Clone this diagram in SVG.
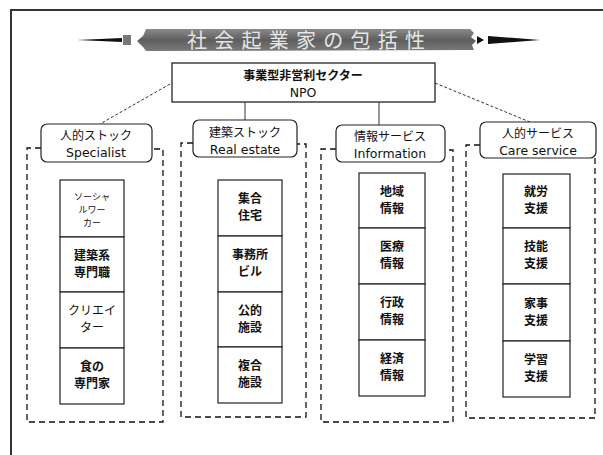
<svg xmlns="http://www.w3.org/2000/svg" width="603" height="455" viewBox="0 0 603 455">
<defs>
<linearGradient id="bn" x1="0" y1="0" x2="0" y2="1">
<stop offset="0" stop-color="#8a8a8a"/>
<stop offset="0.5" stop-color="#5e5e5e"/>
<stop offset="1" stop-color="#7a7a7a"/>
</linearGradient>
</defs>
<style>
.jp{font-family:"Noto Sans CJK JP","Noto Sans",sans-serif;fill:#111;text-anchor:middle;font-size:12px}
.b{font-weight:bold}
.en{font-family:"DejaVu Sans","Noto Sans",sans-serif;fill:#111;text-anchor:middle;font-size:12.5px}
.small{font-size:9px}
.cell{fill:#fff;stroke:#222;stroke-width:1.2}
.lab{fill:#fff;stroke:#222;stroke-width:1.2}
.grp{fill:none;stroke:#111;stroke-width:1.3;stroke-dasharray:6 4}
.con{fill:none;stroke:#333;stroke-width:1}
.dot{fill:none;stroke:#333;stroke-width:1;stroke-dasharray:3 2}
</style>
<rect x="0" y="0" width="603" height="455" fill="#fff"/>
<path d="M11,455 V10 H610" fill="none" stroke="#333" stroke-width="2"/>

<g id="title">
<path d="M77,40 L122,38 L122,42 Z" fill="#111"/>
<rect x="123" y="35" width="8" height="10" fill="#777"/>
<path d="M146,29 L470,29 L474,33 L471,37 L476,41 L472,45 L474,50 L146,51 L143,47 L137,41 L143,36 Z" fill="url(#bn)"/>
<path d="M477,36 L484,40 L477,44 Z" fill="#111"/>
<path d="M488,36 L515,38 L540,40 L488,44 Z" fill="#111"/>
<text x="306" y="48" textLength="238" lengthAdjust="spacing" style="font-family:'Noto Sans CJK JP',sans-serif;font-size:20px;fill:#e6e6e6;text-anchor:middle">社会起業家の包括性</text>
</g>

<g id="connectors">
<path class="dot" d="M170,84 L100,124"/>
<path class="con" d="M245,102 V120"/>
<path class="con" d="M379,102 V125"/>
<path class="dot" d="M435,83 L530,122"/>
</g>

<g id="npo">
<rect x="172" y="63" width="263" height="39" fill="#fff" stroke="#222" stroke-width="1.3"/>
<text class="jp b" x="303" y="80">事業型非営利セクター</text>
<text class="en" x="303" y="97">NPO</text>
</g>

<g id="specialist">
<path class="grp" d="M41,148 H27 V422 H163 V149 H152"/>
<rect class="lab" x="41" y="124" width="111" height="38" rx="6"/>
<text class="jp" x="96" y="140">人的ストック</text>
<text class="en" x="96" y="157">Specialist</text>
<rect class="cell" x="60" y="180" width="64" height="57"/>
<rect class="cell" x="60" y="237" width="64" height="55"/>
<rect class="cell" x="60" y="292" width="64" height="56"/>
<rect class="cell" x="60" y="348" width="64" height="56"/>
<text class="jp small" x="92" y="200">ソーシャ</text>
<text class="jp small" x="92" y="213">ルワー</text>
<text class="jp small" x="92" y="226">カー</text>
<text class="jp b" x="92" y="260">建築系</text>
<text class="jp b" x="92" y="277">専門職</text>
<text class="jp" x="92" y="315">クリエイ</text>
<text class="jp" x="92" y="332">ター</text>
<text class="jp b" x="92" y="371">食の</text>
<text class="jp b" x="92" y="388">専門家</text>
</g>

<g id="realestate">
<path class="grp" d="M193,143 H181 V417 H306 V144 H297"/>
<rect class="lab" x="193" y="120" width="104" height="37" rx="6"/>
<text class="jp" x="245" y="137">建築ストック</text>
<text class="en" x="245" y="154">Real  estate</text>
<rect class="cell" x="218" y="180" width="64" height="56"/>
<rect class="cell" x="218" y="236" width="64" height="56"/>
<rect class="cell" x="218" y="292" width="64" height="55"/>
<rect class="cell" x="218" y="347" width="64" height="56"/>
<text class="jp b" x="250" y="203">集合</text>
<text class="jp b" x="250" y="220">住宅</text>
<text class="jp b" x="250" y="259">事務所</text>
<text class="jp b" x="250" y="276">ビル</text>
<text class="jp b" x="250" y="315">公的</text>
<text class="jp b" x="250" y="332">施設</text>
<text class="jp b" x="250" y="370">複合</text>
<text class="jp b" x="250" y="387">施設</text>
</g>

<g id="information">
<path class="grp" d="M336,149 H321 V422 H453 V150 H445"/>
<rect class="lab" x="336" y="125" width="109" height="37" rx="6"/>
<text class="jp" x="390" y="141">情報サービス</text>
<text class="en" x="390" y="158">Information</text>
<rect class="cell" x="359" y="173" width="66" height="55"/>
<rect class="cell" x="359" y="228" width="66" height="56"/>
<rect class="cell" x="359" y="284" width="66" height="56"/>
<rect class="cell" x="359" y="340" width="66" height="56"/>
<text class="jp b" x="392" y="196">地域</text>
<text class="jp b" x="392" y="213">情報</text>
<text class="jp b" x="392" y="251">医療</text>
<text class="jp b" x="392" y="268">情報</text>
<text class="jp b" x="392" y="307">行政</text>
<text class="jp b" x="392" y="324">情報</text>
<text class="jp b" x="392" y="363">経済</text>
<text class="jp b" x="392" y="380">情報</text>
</g>

<g id="careservice">
<path class="grp" d="M480,145 H466 V418 H595 V158"/>
<rect class="lab" x="480" y="122" width="116" height="36" rx="6"/>
<text class="jp" x="538" y="138">人的サービス</text>
<text class="en" x="538" y="155">Care  service</text>
<rect class="cell" x="503" y="174" width="67" height="54"/>
<rect class="cell" x="503" y="228" width="67" height="56"/>
<rect class="cell" x="503" y="284" width="67" height="57"/>
<rect class="cell" x="503" y="341" width="67" height="56"/>
<text class="jp b" x="536" y="196">就労</text>
<text class="jp b" x="536" y="213">支援</text>
<text class="jp b" x="536" y="251">技能</text>
<text class="jp b" x="536" y="268">支援</text>
<text class="jp b" x="536" y="308">家事</text>
<text class="jp b" x="536" y="325">支援</text>
<text class="jp b" x="536" y="364">学習</text>
<text class="jp b" x="536" y="381">支援</text>
</g>
</svg>
